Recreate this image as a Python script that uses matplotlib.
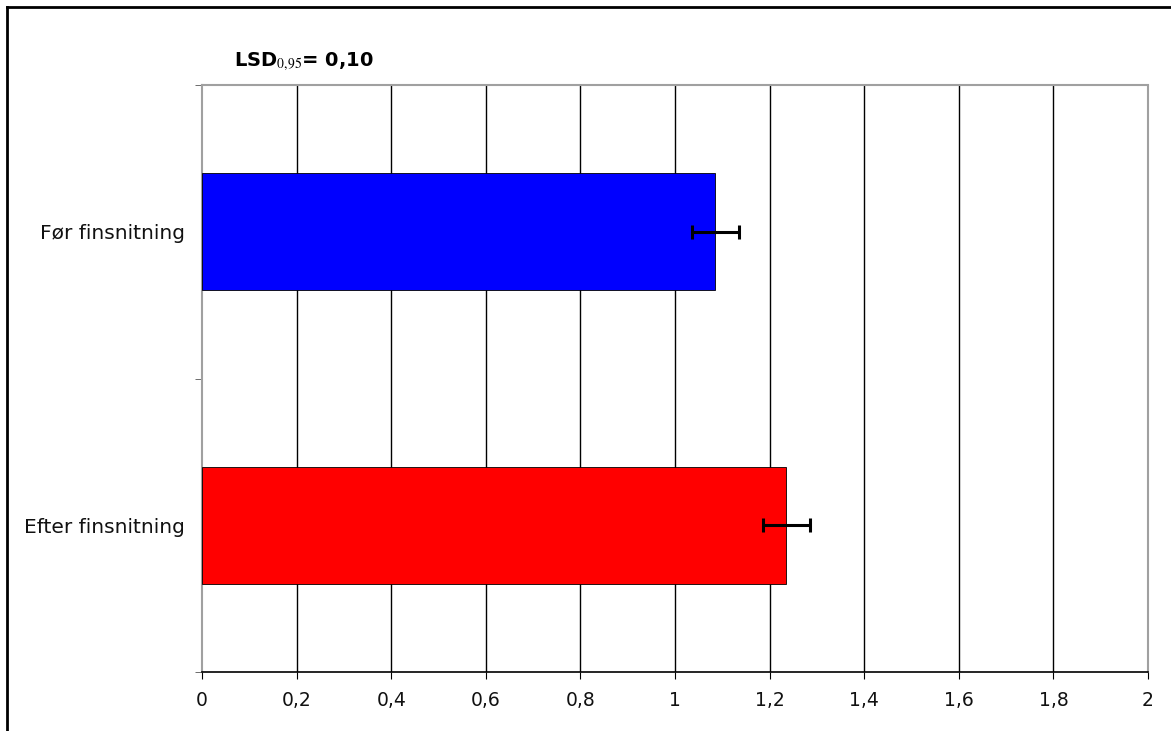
import matplotlib
matplotlib.use('Agg')
import matplotlib.pyplot as plt
from matplotlib.lines import Line2D

plt.rcParams['font.family'] = ['DejaVu Sans']
plt.rcParams['mathtext.fontset'] = 'stix'

categories = ['Efter finsnitning', 'Før finsnitning']
values = [1.235, 1.085]
errors = [0.05, 0.05]
colors = ['#ff0000', '#0000ff']
x_ticks = [0, 0.2, 0.4, 0.6, 0.8, 1.0, 1.2, 1.4, 1.6, 1.8, 2.0]
x_labels = ['0', '0,2', '0,4', '0,6', '0,8', '1', '1,2', '1,4', '1,6', '1,8', '2']

fig = plt.figure(figsize=(11.71, 7.31), dpi=100)
ax = fig.add_axes([202/1171, 1 - 672/731, (1148 - 202)/1171, (672 - 85)/731])

pos = list(range(len(categories)))
ax.barh(pos, values, height=0.4, color=colors, edgecolor='black', linewidth=0.6, zorder=3)
ax.errorbar(values, pos, xerr=errors, fmt='none', ecolor='black', elinewidth=2.2,
            capsize=5, capthick=2.2, zorder=4)

ax.set_xlim(0, 2)
ax.set_ylim(-0.5, 1.5)
ax.set_xticks(x_ticks)
ax.set_xticklabels(x_labels, fontsize=13.5, color='#111111')
for x in x_ticks[1:-1]:
    ax.axvline(x, color='black', linewidth=1, zorder=1)

ax.set_yticks(pos)
ax.set_yticklabels(categories, fontsize=14.5, color='#111111')
ax.tick_params(axis='y', which='major', length=0, pad=12)
ax.set_yticks([-0.5, 0.5, 1.5], minor=True)
ax.tick_params(axis='y', which='minor', length=5, color='#555555')
ax.tick_params(axis='x', length=5, pad=9)

ax.spines['bottom'].set_color('black')
ax.spines['bottom'].set_linewidth(1.2)
for s in ['top', 'right', 'left']:
    ax.spines[s].set_color('#a0a0a0')
    ax.spines[s].set_linewidth(1.5)
ax.spines['top'].set_linestyle((0, (2, 1)))
ax.spines['right'].set_linestyle((0, (2, 1)))

fig.text(234/1171, 1 - 62/731, r'LSD$_{0{,}95}$= 0,10', fontsize=14, fontweight='bold',
         va='center', ha='left')

# outer frame
fig.add_artist(Line2D([7/1171, 1], [1 - 7/731, 1 - 7/731], color='black', linewidth=2,
                      transform=fig.transFigure))
fig.add_artist(Line2D([7/1171, 7/1171], [0, 1 - 7/731], color='black', linewidth=2,
                      transform=fig.transFigure))

fig.savefig('out.png', dpi=100)
